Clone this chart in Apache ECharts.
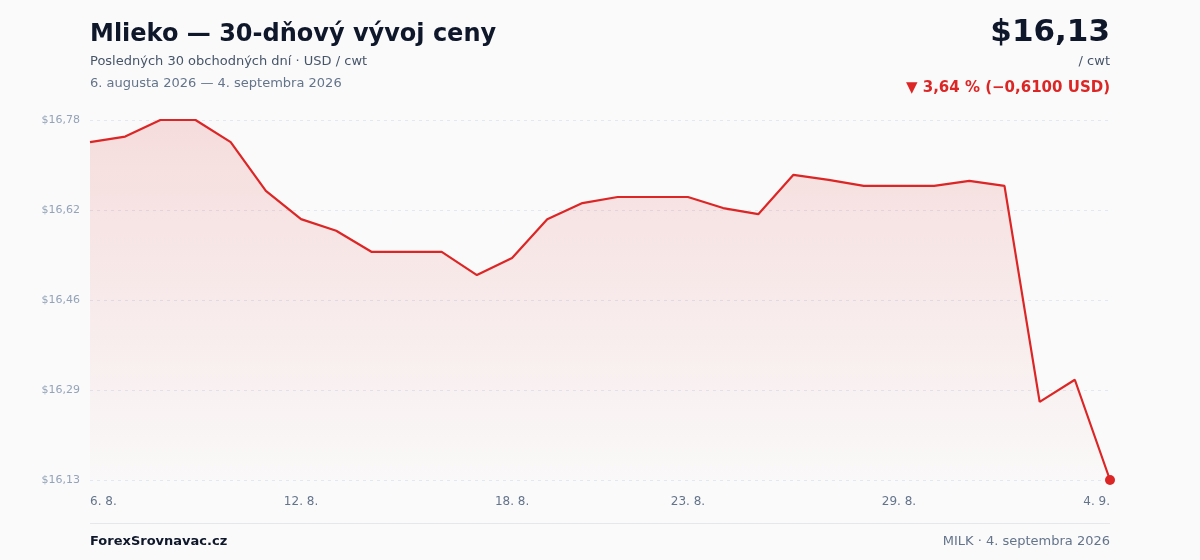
<!DOCTYPE html>
<html>
<head>
<meta charset="utf-8">
<script src="https://cdn.jsdelivr.net/npm/echarts@6/dist/echarts.min.js"></script>
<style>
	html, body { margin: 0; padding: 0; background: #fafafa; }
	#chart { width: 1200px; height: 560px; }
</style>
</head>
<body>
<div id="chart"></div>
<script>
var dates = ['6. 8.', '7. 8.', '8. 8.', '9. 8.', '10. 8.', '11. 8.', '12. 8.', '13. 8.', '14. 8.', '15. 8.',
	'16. 8.', '17. 8.', '18. 8.', '19. 8.', '20. 8.', '21. 8.', '22. 8.', '23. 8.', '24. 8.', '25. 8.',
	'26. 8.', '27. 8.', '28. 8.', '29. 8.', '30. 8.', '31. 8.', '1. 9.', '2. 9.', '3. 9.', '4. 9.'];
var prices = [16.74, 16.75, 16.78, 16.78, 16.74, 16.652, 16.601, 16.58, 16.542, 16.542,
	16.542, 16.50, 16.531, 16.601, 16.63, 16.641, 16.641, 16.641, 16.621, 16.61,
	16.681, 16.672, 16.661, 16.661, 16.661, 16.67, 16.661, 16.271, 16.311, 16.13];
var labeledDays = [0, 6, 12, 17, 23, 29];
var yTicks = [16.13, 16.2925, 16.455, 16.6175, 16.78];
var yTickLabels = ['$16,13', '$16,29', '$16,46', '$16,62', '$16,78'];

var font = 'DejaVu Sans';
var chart = echarts.init(document.getElementById('chart'));

// posledny bod zvyrazneny bodkou
var seriesData = prices.map(function(v, i) {
	if (i === prices.length - 1) {
		return { value: v, symbol: 'circle', symbolSize: 10, itemStyle: { color: '#dc2626' } };
	}
	return v;
});

var option = {
	backgroundColor: '#fafafa',
	textStyle: { fontFamily: font },
	animation: false,
	title: [{
		text: 'Mlieko — 30-dňový vývoj ceny',
		left: 90, top: 23, padding: 0,
		textStyle: { fontFamily: font, fontSize: 24, fontWeight: 'bold', color: '#0f172a' }
	}, {
		text: 'Posledných 30 obchodných dní · USD / cwt',
		left: 90, top: 55, padding: 0,
		textStyle: { fontFamily: font, fontSize: 13, fontWeight: 'normal', color: '#475569' }
	}, {
		text: '6. augusta 2026 — 4. septembra 2026',
		left: 90, top: 77, padding: 0,
		textStyle: { fontFamily: font, fontSize: 13, fontWeight: 'normal', color: '#64748b' }
	}, {
		text: '$16,13',
		right: 90, top: 17, padding: 0,
		textStyle: { fontFamily: font, fontSize: 31, fontWeight: 'bold', color: '#0f172a' }
	}, {
		text: '/ cwt',
		right: 90, top: 55, padding: 0,
		textStyle: { fontFamily: font, fontSize: 13, fontWeight: 'normal', color: '#475569' }
	}, {
		text: '▼ 3,64 % (−0,6100 USD)',
		right: 90, top: 81, padding: 0,
		textStyle: { fontFamily: font, fontSize: 15, fontWeight: 'bold', color: '#dc2626' }
	}, {
		text: 'ForexSrovnavac.cz',
		left: 90, top: 535, padding: 0,
		textStyle: { fontFamily: font, fontSize: 13, fontWeight: 'bold', color: '#0f172a' }
	}, {
		text: 'MILK · 4. septembra 2026',
		right: 90, top: 535, padding: 0,
		textStyle: { fontFamily: font, fontSize: 13, fontWeight: 'normal', color: '#64748b' }
	}],
	graphic: [{
		type: 'line',
		shape: { x1: 90, y1: 523.5, x2: 1110, y2: 523.5 },
		style: { stroke: '#e5e7eb', lineWidth: 1 }
	}],
	grid: { left: 90, right: 90, top: 120, bottom: 80 },
	xAxis: {
		type: 'category',
		data: dates,
		boundaryGap: false,
		axisLine: { show: false },
		axisTick: { show: false },
		axisLabel: {
			interval: function(i) { return labeledDays.indexOf(i) >= 0; },
			margin: 16,
			fontSize: 12,
			color: '#64748b',
			fontFamily: font,
			alignMinLabel: 'left',
			alignMaxLabel: 'right'
		},
		splitLine: { show: false }
	},
	yAxis: {
		type: 'value',
		min: 16.13,
		max: 16.78,
		axisLine: { show: false },
		axisTick: { show: false, customValues: yTicks },
		axisLabel: {
			customValues: yTicks,
			fontSize: 11,
			color: '#94a3b8',
			fontFamily: font,
			margin: 10,
			formatter: function(v) {
				var k = yTicks.indexOf(v);
				return k >= 0 ? yTickLabels[k] : '';
			}
		},
		splitLine: {
			show: true,
			customValues: yTicks,
			lineStyle: { color: '#e2e8f0', type: [3, 4], width: 1 }
		}
	},
	series: [{
		type: 'line',
		data: seriesData,
		symbol: 'none',
		showSymbol: true,
		lineStyle: { color: '#dc2626', width: 2.2 },
		itemStyle: { color: '#dc2626' },
		areaStyle: {
			origin: 'start',
			color: new echarts.graphic.LinearGradient(0, 0, 0, 1, [
				{ offset: 0, color: 'rgba(220,38,38,0.2)' },
				{ offset: 1, color: 'rgba(220,38,38,0.01)' }
			])
		}
	}]
};

chart.setOption(option);
</script>
</body>
</html>
